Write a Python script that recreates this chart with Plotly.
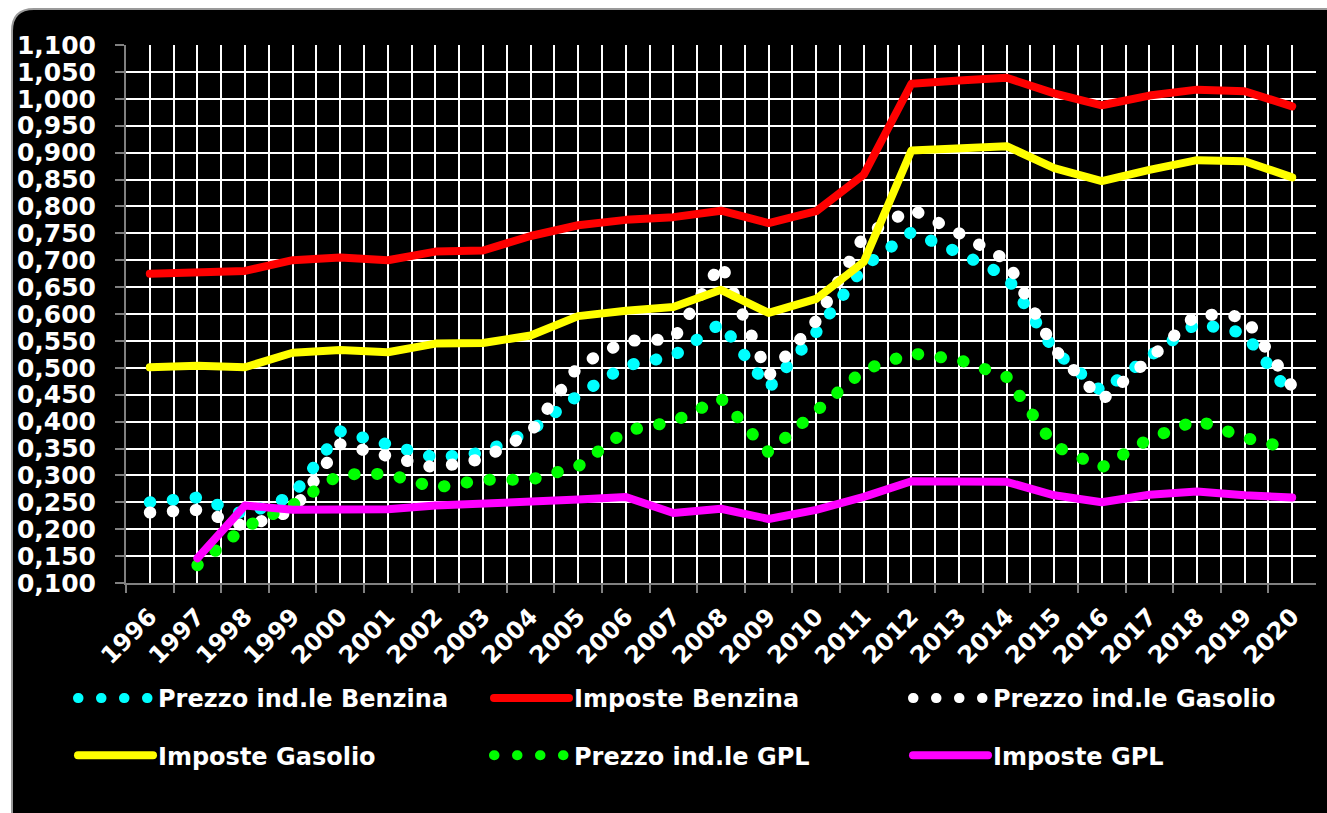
import plotly.graph_objects as go

# yearly values, euro per litre
years = list(range(1996, 2021))
year_labels = [str(y) for y in years]

prezzo_benzina = [0.250, 0.259, 0.227, 0.262, 0.382, 0.356, 0.333, 0.342, 0.383, 0.449,
                  0.504, 0.522, 0.583, 0.462, 0.566, 0.688, 0.752, 0.714, 0.670, 0.532,
                  0.456, 0.521, 0.583, 0.564, 0.446]
imposte_benzina = [0.675, 0.678, 0.680, 0.700, 0.705, 0.700, 0.716, 0.718, 0.745, 0.765,
                   0.775, 0.780, 0.792, 0.769, 0.791, 0.859, 1.028, 1.034, 1.039, 1.010,
                   0.988, 1.006, 1.017, 1.014, 0.986]
prezzo_gasolio = [0.231, 0.236, 0.205, 0.234, 0.358, 0.338, 0.314, 0.331, 0.380, 0.503,
                  0.550, 0.553, 0.694, 0.485, 0.587, 0.745, 0.795, 0.750, 0.700, 0.535,
                  0.440, 0.516, 0.600, 0.595, 0.465]
imposte_gasolio = [0.501, 0.504, 0.501, 0.528, 0.533, 0.529, 0.545, 0.546, 0.560, 0.596,
                   0.606, 0.613, 0.645, 0.602, 0.628, 0.697, 0.904, 0.909, 0.912, 0.871,
                   0.847, 0.868, 0.886, 0.884, 0.854]
prezzo_gpl = [None, 0.133, 0.204, 0.245, 0.302, 0.303, 0.277, 0.292, 0.292, 0.317,
              0.383, 0.400, 0.443, 0.343, 0.419, 0.496, 0.527, 0.515, 0.483, 0.355,
              0.315, 0.368, 0.403, 0.370, 0.349]
imposte_gpl = [None, 0.146, 0.244, 0.236, 0.236, 0.237, 0.244, 0.247, 0.249, 0.255,
               0.260, 0.230, 0.238, 0.219, 0.236, 0.260, 0.289, 0.288, 0.288, 0.263,
               0.250, 0.264, 0.270, 0.263, 0.259]

DOTS = "0.5px,22.5px"

# (name, values, colour, dash, legend column)
series = [
    ("Prezzo ind.le Benzina", prezzo_benzina, "#00ffff", DOTS, "legend"),
    ("Imposte Benzina", imposte_benzina, "#ff0000", "solid", "legend2"),
    ("Prezzo ind.le Gasolio", prezzo_gasolio, "#ffffff", DOTS, "legend3"),
    ("Imposte Gasolio", imposte_gasolio, "#ffff00", "solid", "legend"),
    ("Prezzo ind.le GPL", prezzo_gpl, "#00ff00", DOTS, "legend2"),
    ("Imposte GPL", imposte_gpl, "#ff00ff", "solid", "legend3"),
]

fig = go.Figure()
for name, vals, col, dash, leg in series:
    dotted = dash == DOTS
    fig.add_trace(go.Scatter(
        x=years, y=vals, name=name, mode="lines", legend=leg, legendgroup=name,
        line=dict(color=col, width=12 if dotted else 8, dash=dash),
    ))

W, H = 1327, 813
L, R, T, B = 126, 11, 45, 230
pw, ph = W - L - R, H - T - B


def px_x(p):
    return (p - L) / pw


def px_y(p):
    return (H - B - p) / ph


# black rounded panel behind the chart
x0, y0, x1, y1 = px_x(12), px_y(9), px_x(1340), px_y(830)
rx, ry = 22 / pw, 22 / ph
panel = (f"M {x0},{y1} L {x0},{y0 - ry} Q {x0},{y0} {x0 + rx},{y0} "
         f"L {x1},{y0} L {x1},{y1} Z")
fig.add_shape(type="path", path=panel, xref="paper", yref="paper",
              fillcolor="black", line=dict(color="#9a9a9a", width=2), layer="below")

bold = dict(family="DejaVu Sans", color="white", weight="bold")
legend_common = dict(
    orientation="v", xref="container", yref="container", xanchor="left", yanchor="top",
    y=(H - 676) / H, bgcolor="rgba(0,0,0,0)", font=dict(size=24, **bold), itemwidth=75,
    tracegroupgap=23,
)

fig.update_layout(
    width=W, height=H,
    margin=dict(l=L, r=R, t=T, b=B, pad=0, autoexpand=False),
    paper_bgcolor="white", plot_bgcolor="black",
    separators=",.",
    showlegend=True,
    legend=dict(x=73 / W, **legend_common),
    legend2=dict(x=489 / W, **legend_common),
    legend3=dict(x=908 / W, **legend_common),
    xaxis=dict(
        range=[1995.5, 2020.5], tickvals=years, ticktext=year_labels, tickangle=-45,
        tickfont=dict(size=24, **bold), ticks="", showgrid=True, gridcolor="white", gridwidth=2,
        showline=True, linecolor="#808080", linewidth=2, zeroline=False,
        ticklabelstandoff=8, automargin=False,
        minor=dict(tickvals=[y - 0.5 for y in years], showgrid=True, gridcolor="white",
                   gridwidth=2, ticks="outside", ticklen=8, tickcolor="#808080", tickwidth=2),
    ),
    yaxis=dict(
        range=[0.1, 1.1], dtick=0.05, tick0=0.1, tickformat=".3f",
        tickfont=dict(size=25, **bold), showgrid=True, gridcolor="white", gridwidth=2,
        showline=True, linecolor="#808080", linewidth=2, zeroline=False, automargin=False,
        ticks="outside", ticklen=9, tickcolor="#808080", tickwidth=2, ticklabelstandoff=14,
    ),
)

# no page margin; round caps so the dash pattern draws round dots, as in the original
css = ("document.body.style.margin='0';"
       "var s=document.createElement('style');"
       "s.textContent='body{margin:0}.js-line{stroke-linecap:round !important;"
       "stroke-linejoin:round !important}';"
       "document.head.appendChild(s);")
fig.write_html("out.html", post_script=css, config={"displayModeBar": False})
